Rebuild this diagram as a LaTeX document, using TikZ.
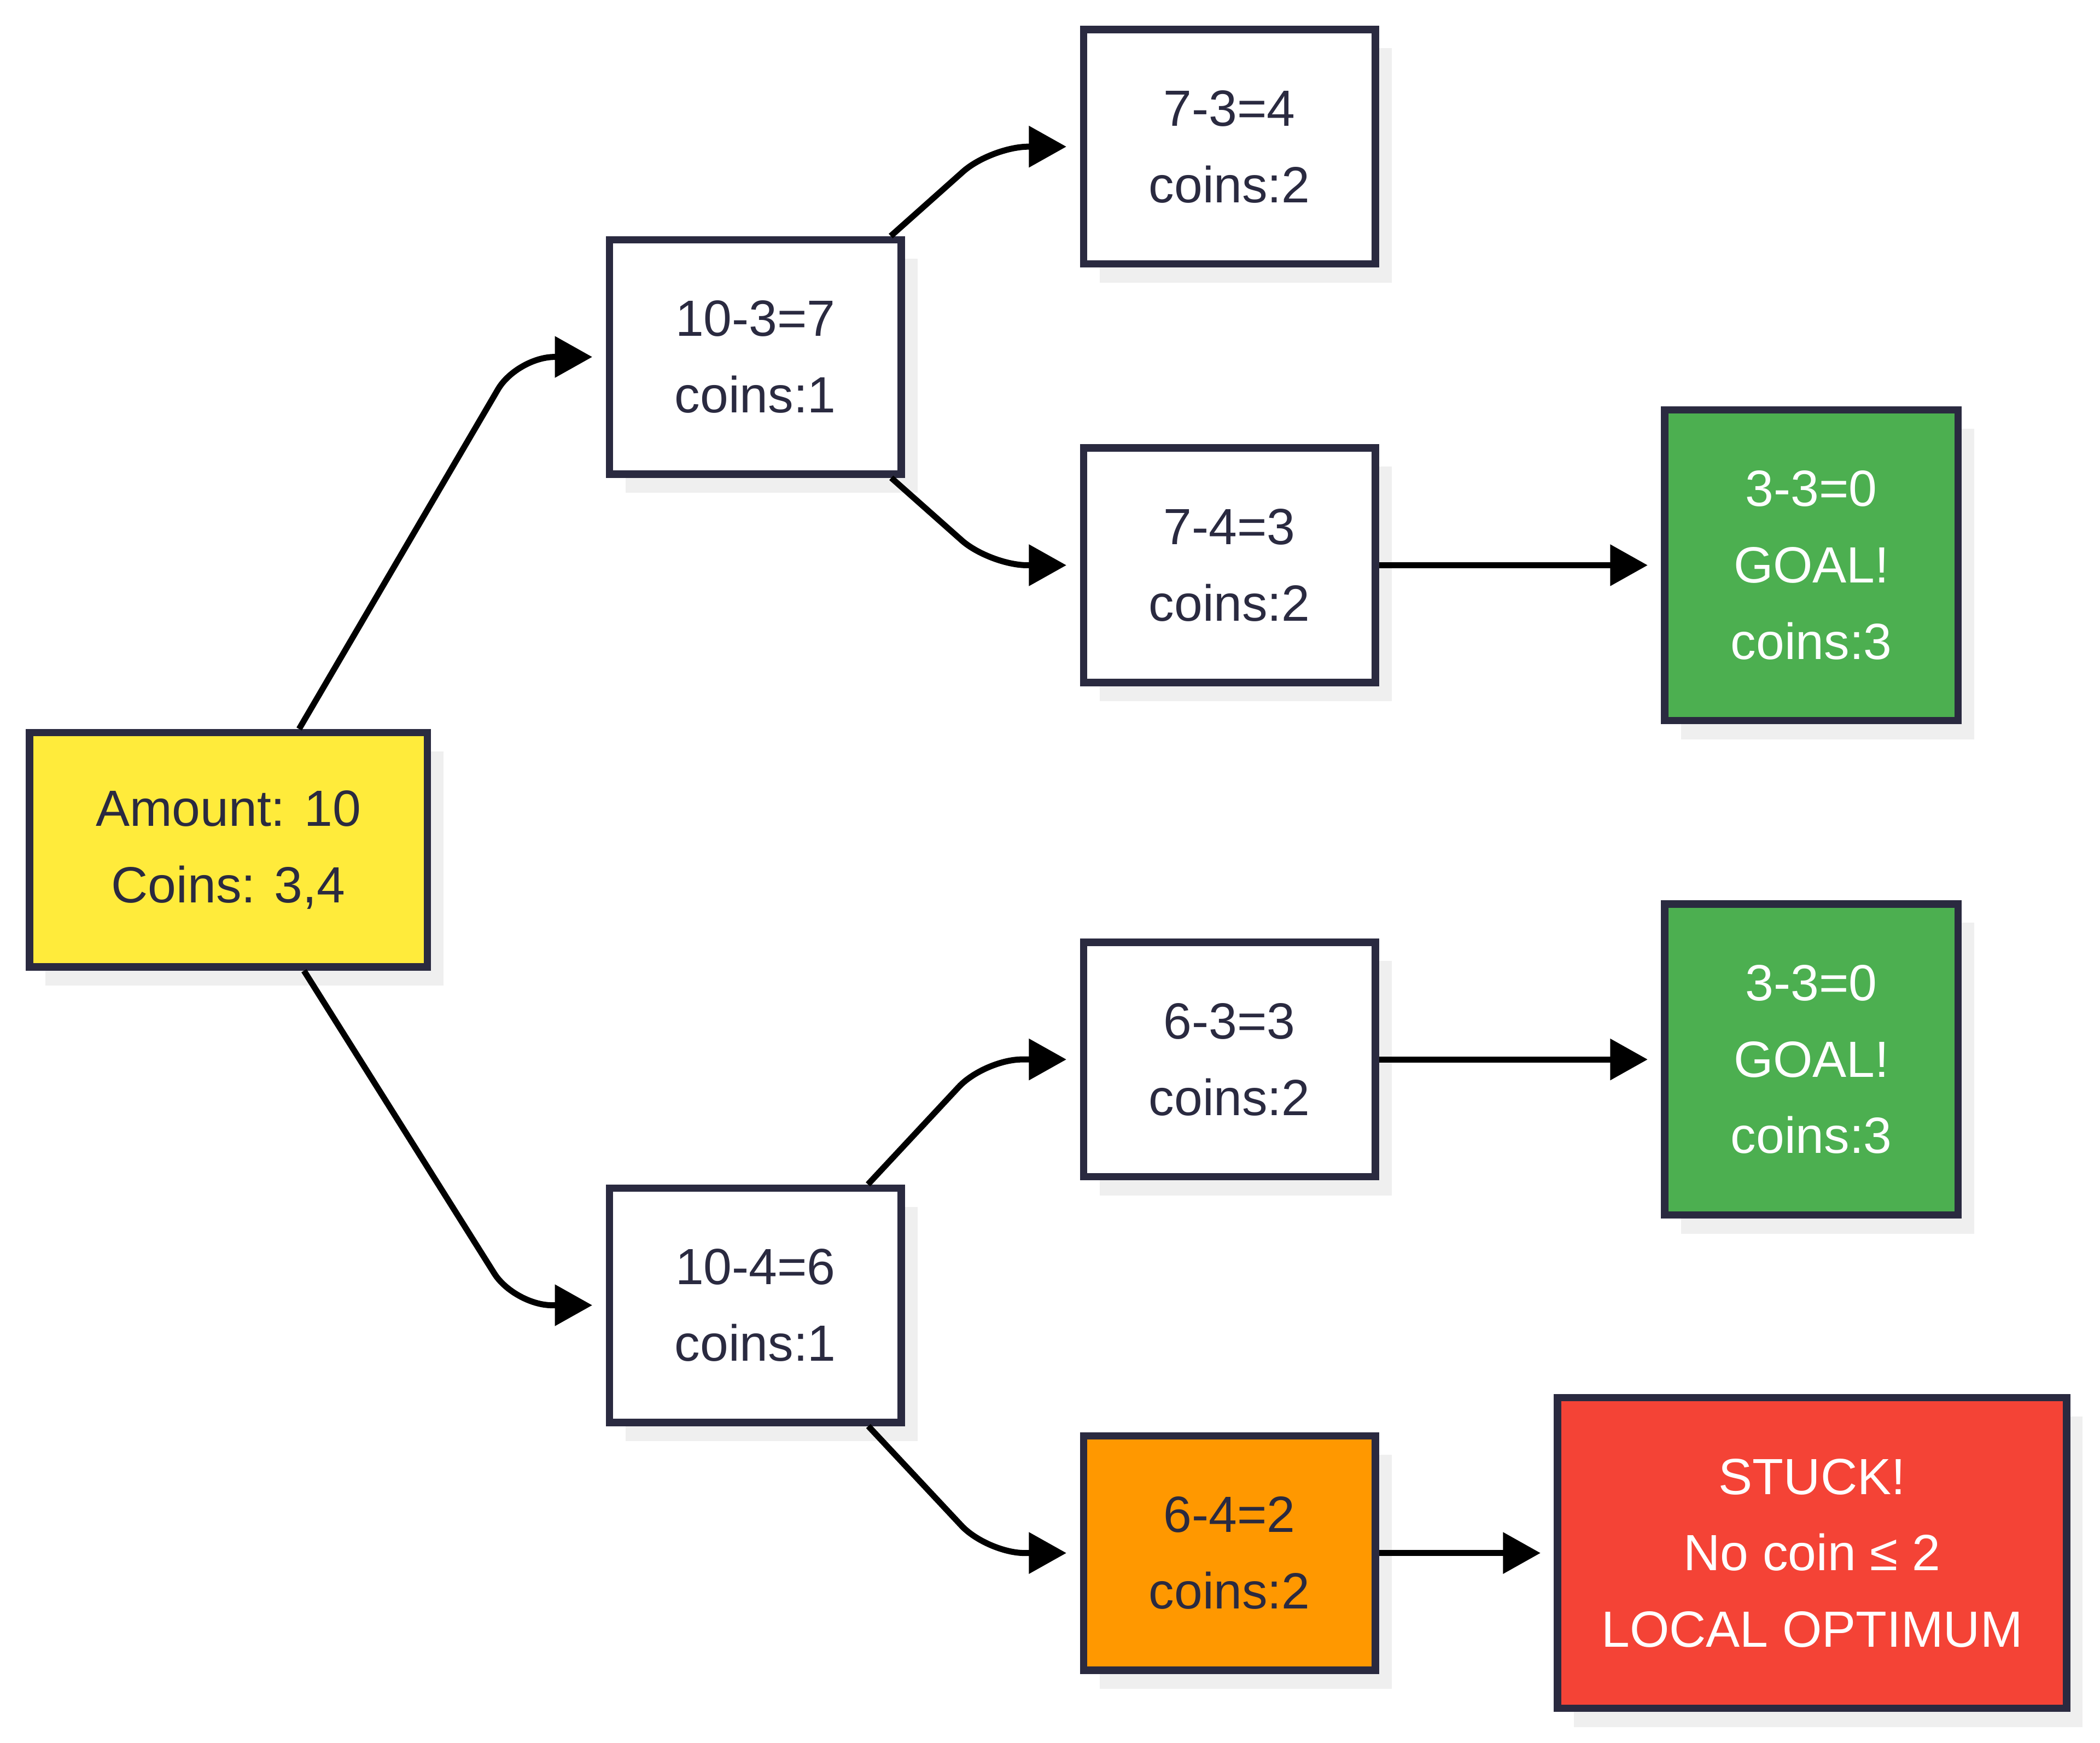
\documentclass[tikz,border=0pt]{standalone}
\usepackage{fontspec}
\setmainfont{Liberation Sans}
\usetikzlibrary{arrows.meta,shadows}
\definecolor{ink}{HTML}{2A2A40}
\definecolor{shadowgray}{HTML}{EFEFEF}
\definecolor{nodeyellow}{HTML}{FFEB3B}
\definecolor{nodeorange}{HTML}{FF9800}
\definecolor{nodegreen}{HTML}{4CAF50}
\definecolor{nodered}{HTML}{F44336}
\tikzset{
  box/.style={draw=ink, line width=5.5pt, fill=white, text=ink, align=center,
    font=\fontsize{38}{57}\selectfont, minimum width=218pt, minimum height=175pt,
    inner sep=0pt,
    general shadow={fill=shadowgray, shadow xshift=12pt, shadow yshift=-14pt}},
  goalbox/.style={box, fill=nodegreen, text=white, minimum width=219pt, minimum height=232pt},
  conn/.style={draw=black, line width=4.5pt, -{Triangle[length=28pt 0 0,width=30pt 0 0]},
    shorten >=10pt, rounded corners=28pt}
}
\begin{document}
\begin{tikzpicture}[x=1pt,y=-1pt]
\useasboundingbox (0,0) rectangle (1568,1301);
\node[box, fill=nodeyellow, minimum width=297pt] (root) at (170.5,634.5) {Amount: 10\\Coins: 3,4};
\node[box] (A) at (564,266.5) {10-3=7\\coins:1};
\node[box] (B) at (564,974.5) {10-4=6\\coins:1};
\node[box] (C) at (918,109.5) {7-3=4\\coins:2};
\node[box] (D) at (918,422) {7-4=3\\coins:2};
\node[box] (E) at (918,791) {6-3=3\\coins:2};
\node[box, fill=nodeorange] (F) at (918,1159.5) {6-4=2\\coins:2};
\node[goalbox] (G1) at (1352.5,422) {3-3=0\\GOAL!\\coins:3};
\node[goalbox] (G2) at (1352.5,791) {3-3=0\\GOAL!\\coins:3};
\node[goalbox, fill=nodered, minimum width=380pt] (S) at (1353,1159.5) {STUCK!\\No coin ≤ 2\\LOCAL OPTIMUM};
\coordinate (c1) at (386,266.5);
\coordinate (c2) at (384,974.5);
\coordinate (c3) at (740,109.5);
\coordinate (c4) at (739,422);
\coordinate (c5) at (735,791);
\coordinate (c6) at (737,1159.5);
\draw[conn] (root) -- (c1) -- (A);
\draw[conn] (root) -- (c2) -- (B);
\draw[conn] (A) -- (c3) -- (C);
\draw[conn] (A) -- (c4) -- (D);
\draw[conn] (B) -- (c5) -- (E);
\draw[conn] (B) -- (c6) -- (F);
\draw[conn] (D) -- (G1);
\draw[conn] (E) -- (G2);
\draw[conn] (F) -- (S);
\end{tikzpicture}
\end{document}
